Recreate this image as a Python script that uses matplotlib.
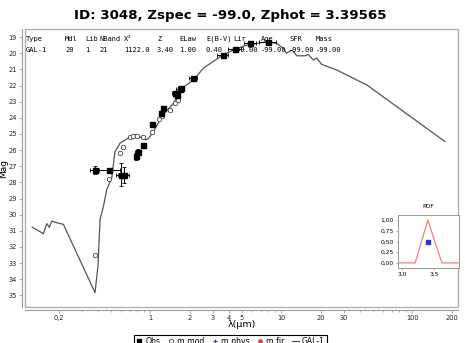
import matplotlib
matplotlib.use("Agg")
import matplotlib.pyplot as plt
from matplotlib.patches import Rectangle
from matplotlib.lines import Line2D
from matplotlib.ticker import FixedLocator, FuncFormatter, NullFormatter, LogLocator
import numpy as np

# ---------------- data ----------------
sed_lam = [0.126, 0.150, 0.153, 0.163, 0.170, 0.178, 0.194, 0.218, 0.380, 0.400, 0.415,
           0.440, 0.467, 0.510, 0.530, 0.540, 0.590, 0.700, 0.770, 0.920, 0.970, 1.06,
           1.26, 1.51, 1.75, 2.14, 2.55, 3.42, 4.30, 5.47, 7.80, 9.26, 10.4, 11.0, 12.1,
           13.2, 15.3, 16.1, 17.6, 18.7, 20.4, 26.6, 42.4, 45.0, 178.0]
sed_mag = [30.78, 31.13, 31.19, 30.55, 30.78, 30.40, 30.50, 30.60, 34.83, 33.20, 30.30,
           29.50, 28.45, 27.73, 26.60, 26.10, 25.57, 25.20, 25.05, 25.36, 25.30, 24.85,
           23.80, 23.10, 22.17, 21.66, 20.93, 20.22, 19.80, 19.50, 19.29, 19.39, 19.70, 20.00, 19.80,
           20.16, 20.16, 20.07, 20.42, 20.30, 20.69, 21.04, 21.86, 21.96, 25.47]

obs_lam = [0.38, 0.49, 0.60, 0.63, 0.78, 0.81, 0.89, 1.04, 1.21, 1.26, 1.55, 1.60, 1.69,
           1.73, 2.14, 3.59, 4.46, 5.80, 8.00]
obs_mag = [27.26, 27.26, 27.52, 27.52, 26.39, 26.12, 25.71, 24.37, 23.68, 23.40, 22.48,
           22.58, 22.20, 22.17, 21.51, 20.11, 19.74, 19.39, 19.33]
obs_magerr = [0.25, 0.10, 0.73, 0.50, 0.20, 0.20, 0.10, 0.10, 0.10, 0.10, 0.15, 0.15,
              0.10, 0.10, 0.10, 0.05, 0.05, 0.05, 0.05]
obs_lamerr = [0.03, 0.10, 0.05, 0.06, 0.03, 0.04, 0.03, 0.03, 0.05, 0.05, 0.08, 0.10,
              0.10, 0.10, 0.15, 0.35, 0.50, 0.60, 1.20]

mod_lam = [0.38, 0.49, 0.59, 0.625, 0.70, 0.74, 0.79, 0.89, 1.04, 1.16, 1.23, 1.42, 1.55,
           1.64, 2.14, 3.59, 4.46, 5.80, 8.00]
mod_mag = [32.50, 27.80, 26.15, 25.78, 25.20, 25.10, 25.10, 25.20, 24.90, 24.10, 23.90,
           23.50, 23.10, 22.90, 21.60, 20.20, 19.80, 19.50, 19.30]

pdf_z = [2.90, 3.20, 3.40, 3.62, 3.90]
pdf_p = [0.00, 0.00, 1.00, 0.00, 0.00]
zphot_pt = [3.40]
pdf_pt = [0.50]

hdr_names = ["Type", "Mdl", "Lib", "NBand", "X\u00b2", "Z", "ELaw", "E(B-V)", "Lir", "Age", "SFR", "Mass"]
hdr_vals = ["GAL-1", "20", "1", "21", "1122.0", "3.40", "1.00", "0.40", "-99.00", "-99.00", "-99.00", "-99.00"]

xticks_major = [0.2, 1, 2, 3, 4, 5, 10, 20, 30, 100, 200]
yticks = list(range(19, 36))

title = "ID: 3048, Zspec = -99.0, Zphot = 3.39565"

# ---------------- figure ----------------
W, H = 465, 343
fig = plt.figure(figsize=(W / 100, H / 100), dpi=100)
L, R, T, B = 25, 458, 29, 307
ax = fig.add_axes([L / W, 1 - B / H, (R - L) / W, (B - T) / H])
ax.set_xscale("log")
ax.set_xlim(0.111, 224)
ax.set_ylim(35.72, 18.5)

grey = "#9a9a9a"
for s in ["top", "right"]:
    ax.spines[s].set_visible(False)
for s in ["left", "bottom"]:
    ax.spines[s].set_position(("outward", 2))
    ax.spines[s].set_color(grey)
    ax.spines[s].set_linewidth(0.8)
ax.add_patch(Rectangle((0, 0), 1, 1, transform=ax.transAxes, fill=False,
                       edgecolor="#b0b0b0", lw=1.0, clip_on=False, zorder=5))

ax.xaxis.set_major_locator(FixedLocator(xticks_major))
ax.xaxis.set_major_formatter(FuncFormatter(lambda v, p: ("%g" % v).replace(".", ",")))
ax.xaxis.set_minor_locator(LogLocator(base=10, subs=np.arange(1, 10), numticks=20))
ax.xaxis.set_minor_formatter(NullFormatter())
ax.set_yticks(yticks)
ax.tick_params(axis="both", which="major", labelsize=4.8, length=2.5, width=0.6,
               color=grey, pad=1.5, labelcolor="#222222")
ax.tick_params(axis="x", which="minor", length=1.5, width=0.5, color=grey)

ax.set_xlabel("\u03bb(\u00b5m)", fontsize=6.8)
ax.xaxis.set_label_coords(0.5, (B - 320) / (B - T))
ax.set_ylabel("Mag", fontsize=6.5)
ax.yaxis.set_label_coords((8 - L) / (R - L), 0.5)

ax.plot(sed_lam, sed_mag, color="#555555", lw=0.9, zorder=2)
ax.plot(mod_lam, mod_mag, linestyle="none", marker="o", ms=3.2, mfc="white",
        mec="#444444", mew=0.6, zorder=3)
ax.errorbar(obs_lam, obs_mag, yerr=obs_magerr, xerr=obs_lamerr, fmt="s", color="black",
            ms=3.6, elinewidth=0.7, capsize=1.5, capthick=0.6, zorder=4)

fig.text(230 / W, 1 - 15 / H, title, fontsize=9.6, fontweight="bold",
         ha="center", va="center")

# header text
hdr_x = [26, 65, 85, 99, 124, 157, 179, 206, 233, 261, 289, 316]
for xp, n, v in zip(hdr_x, hdr_names, hdr_vals):
    fx = (xp - L) / (R - L)
    ax.text(fx, (B - 39) / (B - T), n, transform=ax.transAxes, fontsize=5,
            family="DejaVu Sans Mono", va="center", ha="left", zorder=6)
    ax.text(fx, (B - 50) / (B - T), v, transform=ax.transAxes, fontsize=5,
            family="DejaVu Sans Mono", va="center", ha="left", zorder=6)

# inset PDF
ix0, ix1, iy0, iy1 = 398, 459, 215, 268
iax = fig.add_axes([ix0 / W, 1 - iy1 / H, (ix1 - ix0) / W, (iy1 - iy0) / H])
iax.plot(pdf_z, pdf_p, color="#f08080", lw=0.9)
iax.plot(zphot_pt, pdf_pt, linestyle="none", marker="s", ms=3.2, color="#3333dd")
iax.set_xlim(2.93, 3.89)
iax.set_ylim(-0.12, 1.12)
iax.set_xticks([3.0, 3.5])
iax.set_yticks([0, 0.25, 0.5, 0.75, 1.0])
iax.xaxis.set_major_formatter(FuncFormatter(lambda v, p: ("%.1f" % v).replace(".", ",")))
iax.yaxis.set_major_formatter(FuncFormatter(lambda v, p: ("%.2f" % v).replace(".", ",")))
iax.tick_params(labelsize=4.3, length=1.5, width=0.5, color=grey, pad=1.5)
for s in iax.spines.values():
    s.set_color(grey)
    s.set_linewidth(0.7)
iax.set_title("PDF", fontsize=4.3, pad=5)

# legend
handles = [
    Line2D([], [], linestyle="none", marker="s", color="black", ms=3.2),
    Line2D([], [], linestyle="none", marker="o", mfc="white", mec="#444444", ms=3.0, mew=0.6),
    Line2D([], [], linestyle="none", marker="+", color="#3333dd", ms=3.2, mew=0.8),
    Line2D([], [], linestyle="none", marker="o", color="#e04040", ms=2.4),
    Line2D([], [], color="#555555", lw=0.9),
]
labels = ["Obs", "m mod", "m phys", "m fir", "GAL-1"]
leg = fig.legend(handles, labels, loc="upper center", bbox_to_anchor=(230 / W, 1 - 335 / H),
                 ncol=5, fontsize=5.6, frameon=True, fancybox=False, edgecolor="black",
                 handlelength=0.9, handletextpad=0.35, columnspacing=0.9,
                 borderpad=0.25, borderaxespad=0.0, framealpha=1)
leg.get_frame().set_linewidth(0.8)

fig.savefig("out.png", dpi=100)
